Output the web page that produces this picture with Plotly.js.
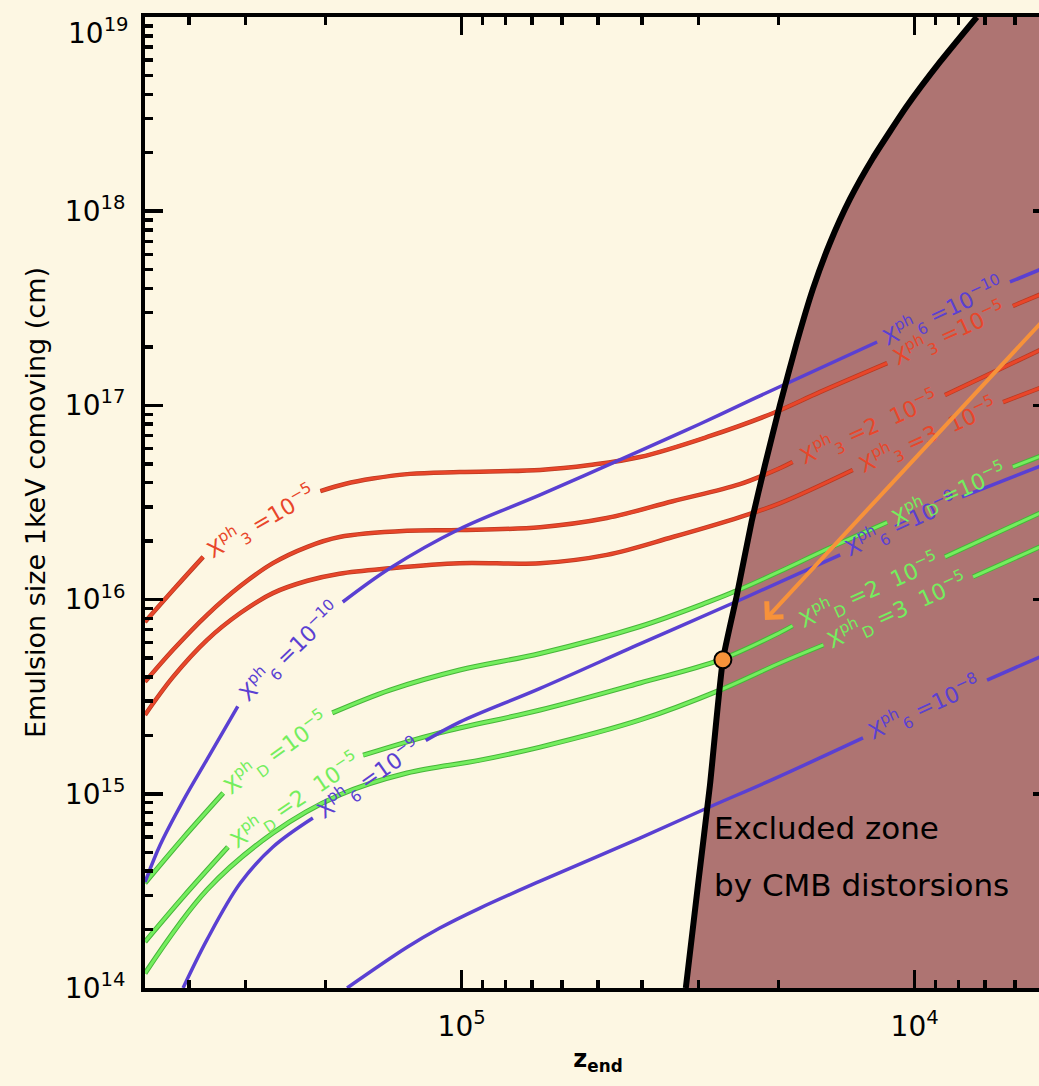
<!DOCTYPE html>
<html>
<head>
<meta charset="utf-8">
<script src="https://cdn.plot.ly/plotly-3.0.1.min.js"></script>
<style>
  html, body { margin: 0; padding: 0; background: #FDF7E3; overflow: hidden; }
  #chart { width: 1060px; height: 1086px; }
</style>
</head>
<body>
<div id="chart"></div>
<script>
// ---------------- data ----------------
// x: z_end, y: emulsion size 1 keV comoving (cm); null = gap left for a label

// X3^ph = 1e-5 (red)
const zRed1 = [5.0e5, 4.29e5, 3.72e5, null, 2.05e5, 1.81e5, 1.57e5, 1.30e5, 1.01e5, 6.71e4, 5.21e4, 4.04e4, 2.87e4, 2.05e4, 1.62e4, 1.15e4, null, 6.07e3, 5.0e3];
const sRed1 = [7.67e15, 1.15e16, 1.66e16, null, 3.62e16, 3.94e16, 4.20e16, 4.44e16, 4.54e16, 4.65e16, 4.93e16, 5.42e16, 6.88e16, 9.14e16, 1.17e17, 1.65e17, null, 3.25e17, 3.93e17];
// X3^ph = 2e-5 (red)
const zRed2 = [5.0e5, 4.34e5, 3.65e5, 3.08e5, 2.61e5, 2.19e5, 1.86e5, 1.32e5, 1.01e5, 6.71e4, 4.78e4, 3.42e4, 2.43e4, 1.98e4, 1.86e4, null, 8.57e3, 5.0e3];
const sRed2 = [3.77e15, 5.50e15, 8.33e15, 1.175e16, 1.54e16, 1.87e16, 2.10e16, 2.26e16, 2.28e16, 2.36e16, 2.63e16, 3.21e16, 3.93e16, 4.76e16, 5.11e16, null, 1.13e17, 2.05e17];
// X3^ph = 3e-5 (red)
const zRed3 = [5.0e5, 4.34e5, 3.65e5, 3.08e5, 2.61e5, 2.19e5, 1.86e5, 1.44e5, 1.01e5, 6.71e4, 4.78e4, 3.42e4, 2.43e4, 1.98e4, 1.37e4, null, 6.38e3, 5.0e3];
const sRed3 = [2.55e15, 3.99e15, 6.19e15, 8.53e15, 1.08e16, 1.25e16, 1.36e16, 1.45e16, 1.54e16, 1.54e16, 1.70e16, 2.10e16, 2.66e16, 3.14e16, 4.65e16, null, 1.04e17, 1.29e17];

// X6^ph = 1e-10 (purple)
const zPur10 = [5.0e5, 4.63e5, 4.12e5, 3.65e5, 3.12e5, null, 1.83e5, 1.44e5, 1.01e5, 6.71e4, 4.04e4, 2.98e4, 2.27e4, 1.21e4, null, 6.16e3, 5.0e3];
const sPur10 = [3.51e14, 5.45e14, 9.20e14, 1.50e15, 2.82e15, null, 9.72e15, 1.45e16, 2.31e16, 3.46e16, 5.83e16, 8.02e16, 1.08e17, 2.12e17, null, 4.32e17, 5.28e17];
// X6^ph = 1e-9 (purple)
const zPur9 = [4.12e5, 3.65e5, 3.08e5, 2.61e5, 2.13e5, null, 1.20e5, 1.01e5, 6.71e4, 4.04e4, 2.43e4, 1.46e4, null, 7.86e3, 5.0e3];
const sPur9 = [1.0e14, 1.77e14, 3.47e14, 5.32e14, 7.50e14, null, 1.88e15, 2.34e15, 3.49e15, 5.91e15, 9.95e15, 1.70e16, null, 3.38e16, 5.11e16];
// X6^ph = 1e-8 (purple)
const zPur8 = [1.79e5, 1.32e5, 1.12e5, 9.11e4, 6.71e4, 4.04e4, 2.87e4, 2.05e4, 1.30e4, null, 6.92e3, 5.0e3];
const sPur8 = [1.0e14, 1.62e14, 2.03e14, 2.58e14, 3.55e14, 5.91e14, 8.45e14, 1.19e15, 1.94e15, null, 3.85e15, 5.37e15];

// XD^ph = 1e-5 (green)
const zGrn1 = [5.0e5, 4.12e5, 3.36e5, null, 1.93e5, 1.44e5, 1.01e5, 6.71e4, 4.04e4, 2.87e4, 2.43e4, 1.98e4, 1.56e4, 1.15e4, null, 6.07e3, 5.0e3];
const sGrn1 = [3.47e14, 5.92e14, 1.01e15, null, 2.61e15, 3.42e15, 4.34e15, 5.28e15, 7.27e15, 9.67e15, 1.13e16, 1.40e16, 1.82e16, 2.50e16, null, 4.82e16, 5.75e16];
// XD^ph = 2e-5 (green)
const zGrn2 = [5.0e5, 4.12e5, 3.28e5, null, 1.65e5, 1.12e5, 6.71e4, 4.04e4, 2.69e4, 1.98e4, 1.86e4, null, 8.57e3, 5.0e3];
const sGrn2 = [1.73e14, 2.94e14, 5.32e14, null, 1.58e15, 2.06e15, 2.70e15, 3.72e15, 4.89e15, 6.78e15, 7.33e15, null, 1.66e16, 2.96e16];
// XD^ph = 3e-5 (green)
const zGrn3 = [5.0e5, 3.65e5, 2.61e5, 1.86e5, 1.32e5, 9.11e4, 6.71e4, 4.04e4, 2.69e4, 1.98e4, 1.59e4, null, 7.43e3, 5.0e3];
const sGrn3 = [1.19e14, 3.20e14, 6.28e14, 9.86e14, 1.28e15, 1.49e15, 1.74e15, 2.40e15, 3.42e15, 4.72e15, 5.84e15, null, 1.31e16, 1.98e16];

// CMB-distortion exclusion boundary
const zBound = [32000, 30080, 28300, 26500, 24680, 22860, 21400, 19830, 18190, 16770, 15380, 13890, 12360, 10400, 8790, 7290];
const sBound = [1.0e14, 3.39e14, 1.11e15, 4.89e15, 1.056e16, 2.57e16, 4.93e16, 1.005e17, 2.12e17, 3.98e17, 6.86e17, 1.156e18, 1.88e18, 3.48e18, 5.87e18, 1.0e19];

// highlighted point and arrow
const zPoint = [26500];
const sPoint = [4.9e15];
const arrowTail = {z: 5.0e3, s: 3.03e17};
const arrowTip = {z: 2.14e4, s: 7.85e15};

// axes
const zRange = [5e5, 5e3];
const sRange = [1e14, 1e19];
const zTickVals = [1e5, 1e4];
const zTickText = ['10<sup>5</sup>', '10<sup>4</sup>'];
const sTickVals = [1e14, 1e15, 1e16, 1e17, 1e18];
const sTickText = ['10<sup>14</sup>', '10<sup>15</sup>', '10<sup>16</sup>', '10<sup>17</sup>', '10<sup>18</sup>'];
const sTopTickText = '10<sup>19</sup>';   // top label, set slightly lower as in the reference

// curve labels: text, colour, z, s, angle
const labelText = [
  'X<sup>ph</sup><sub>3</sub> =10<sup>−5</sup>',
  'X<sup>ph</sup><sub>6</sub> =10<sup>−10</sup>',
  'X<sup>ph</sup><sub>D</sub> =10<sup>−5</sup>',
  'X<sup>ph</sup><sub>D</sub> =2  10<sup>−5</sup>',
  'X<sup>ph</sup><sub>6</sub> =10<sup>−9</sup>',
  'X<sup>ph</sup><sub>6</sub> =10<sup>−10</sup>',
  'X<sup>ph</sup><sub>3</sub> =10<sup>−5</sup>',
  'X<sup>ph</sup><sub>3</sub> =2  10<sup>−5</sup>',
  'X<sup>ph</sup><sub>3</sub> =3  10<sup>−5</sup>',
  'X<sup>ph</sup><sub>6</sub> =10<sup>−9</sup>',
  'X<sup>ph</sup><sub>D</sub> =10<sup>−5</sup>',
  'X<sup>ph</sup><sub>D</sub> =2  10<sup>−5</sup>',
  'X<sup>ph</sup><sub>D</sub> =3  10<sup>−5</sup>',
  'X<sup>ph</sup><sub>6</sub> =10<sup>−8</sup>'
];
const labelFamily = ['red','purple','green','green','purple','purple','red','red','red','purple','green','green','green','purple'];
const labelZ = [2.76e5, 2.39e5, 2.56e5, 2.33e5, 1.60e5, 8.66e3, 8.36e3, 1.26e4, 9.34e3, 1.07e4, 8.36e3, 1.26e4, 1.09e4, 9.49e3];
const labelS = [2.51e16, 5.37e15, 1.62e15, 9.18e14, 1.19e15, 3.03e17, 2.33e17, 7.65e16, 6.96e16, 2.42e16, 3.46e16, 1.11e16, 8.74e15, 2.77e15];
const labelAngle = [-30, -44, -36, -34, -35, -25, -24.5, -24, -24.4, -24.7, -24, -24, -24.4, -24.7];

// ---------------- styles ----------------
const BG = '#FDF7E3';
const FILL = '#AE7472';
const COL = {red: '#E8462A', redEdge: '#B83A22', purple: '#5A40D2', green: '#74EE5E', greenEdge: '#48B53A', orange: '#F7923A'};
const FONT = 'DejaVu Sans, Lato, sans-serif';

const traces = [];
// excluded zone
traces.push({
  x: zBound.concat([zRange[1], zRange[1]]),
  y: sBound.concat([sRange[1], sRange[0]]),
  mode: 'lines', fill: 'toself', fillcolor: FILL, line: {width: 0, color: FILL, shape: 'spline', smoothing: 0.5}, hoverinfo: 'skip'
});
function curve(z, s, color, width) {
  return {x: z, y: s, mode: 'lines', line: {color: color, width: width, shape: 'spline', smoothing: 1.0}, hoverinfo: 'skip', connectgaps: false};
}
[[zRed1, sRed1], [zRed2, sRed2], [zRed3, sRed3]].forEach(([z, s]) => {
  traces.push(curve(z, s, COL.redEdge, 4.5));
  traces.push(curve(z, s, COL.red, 3));
});
[[zGrn1, sGrn1], [zGrn2, sGrn2], [zGrn3, sGrn3]].forEach(([z, s]) => {
  traces.push(curve(z, s, COL.greenEdge, 5));
  traces.push(curve(z, s, COL.green, 3));
});
[[zPur10, sPur10], [zPur9, sPur9], [zPur8, sPur8]].forEach(([z, s]) => {
  traces.push(curve(z, s, COL.purple, 3.5));
});
// boundary line
traces.push({x: zBound, y: sBound, mode: 'lines', line: {color: '#000', width: 6, shape: 'spline', smoothing: 0.5}, hoverinfo: 'skip'});
// point
traces.push({x: zPoint, y: sPoint, mode: 'markers', marker: {size: 17, color: COL.orange, line: {color: '#000', width: 2}}, hoverinfo: 'skip'});

// minor ticks 2..9 per decade
function minorTicks(lo, hi) {
  const v = [];
  for (let e = lo; e < hi; e++) for (let d = 2; d <= 9; d++) v.push(d * Math.pow(10, e));
  return v;
}

const annotations = labelText.map((t, i) => ({
  x: Math.log10(labelZ[i]), y: Math.log10(labelS[i]), xref: 'x', yref: 'y',
  text: t, showarrow: false, textangle: labelAngle[i],
  font: {family: FONT, size: 22, color: COL[labelFamily[i]]}
}));
annotations.push({
  x: Math.log10(arrowTip.z), y: Math.log10(arrowTip.s), ax: Math.log10(arrowTail.z), ay: Math.log10(arrowTail.s),
  xref: 'x', yref: 'y', axref: 'x', ayref: 'y', text: '', showarrow: true,
  arrowhead: 4, arrowsize: 1.1, arrowwidth: 4, arrowcolor: COL.orange
});
annotations.push({x: Math.log10(2.80e4), y: Math.log10(6.7e14), xref: 'x', yref: 'y', xanchor: 'left', text: 'Excluded zone', showarrow: false, font: {family: FONT, size: 31, color: '#000'}});
annotations.push({x: Math.log10(2.80e4), y: Math.log10(3.4e14), xref: 'x', yref: 'y', xanchor: 'left', text: 'by CMB distorsions', showarrow: false, font: {family: FONT, size: 31, color: '#000'}});
// top y tick label
annotations.push({x: -0.0155, y: 1.006, xref: 'paper', yref: 'paper', xanchor: 'right', yanchor: 'top', text: sTopTickText, showarrow: false, font: {family: FONT, size: 28, color: '#000'}});

const axisCommon = {
  type: 'log', showgrid: false, zeroline: false, showline: true, linecolor: '#000', linewidth: 4,
  mirror: 'allticks', ticks: 'inside', ticklen: 18, tickwidth: 3.5, tickcolor: '#000',
  tickmode: 'array', ticklabeloverflow: 'allow', tickfont: {family: FONT, size: 28, color: '#000'}
};

const layout = {
  width: 1060, height: 1086,
  margin: {l: 145, r: 9, t: 17, b: 98},
  paper_bgcolor: BG, plot_bgcolor: BG, showlegend: false,
  font: {family: FONT, color: '#000'},
  xaxis: Object.assign({}, axisCommon, {
    range: [Math.log10(zRange[0]), Math.log10(zRange[1])],
    tickvals: zTickVals, ticktext: zTickText,
    minor: {tickmode: 'array', tickvals: minorTicks(3, 6), ticks: 'inside', ticklen: 8, tickwidth: 3.5, tickcolor: '#000', showgrid: false},
    ticklabelstandoff: 10,
    title: {text: '<b>z<sub>end</sub></b>', font: {family: FONT, size: 24, color: '#000'}, standoff: 10}
  }),
  yaxis: Object.assign({}, axisCommon, {
    range: [Math.log10(sRange[0]), Math.log10(sRange[1])],
    tickvals: sTickVals.concat([1e19]), ticktext: sTickText.concat(['']),
    minor: {tickmode: 'array', tickvals: minorTicks(14, 19), ticks: 'inside', ticklen: 8, tickwidth: 3.5, tickcolor: '#000', showgrid: false},
    ticklabelstandoff: 10,
    title: {text: 'Emulsion size 1keV comoving (cm)', font: {family: FONT, size: 27, color: '#000'}, standoff: 12}
  }),
  annotations: annotations
};

Plotly.newPlot('chart', traces, layout, {displayModeBar: false, staticPlot: true});
</script>
</body>
</html>
